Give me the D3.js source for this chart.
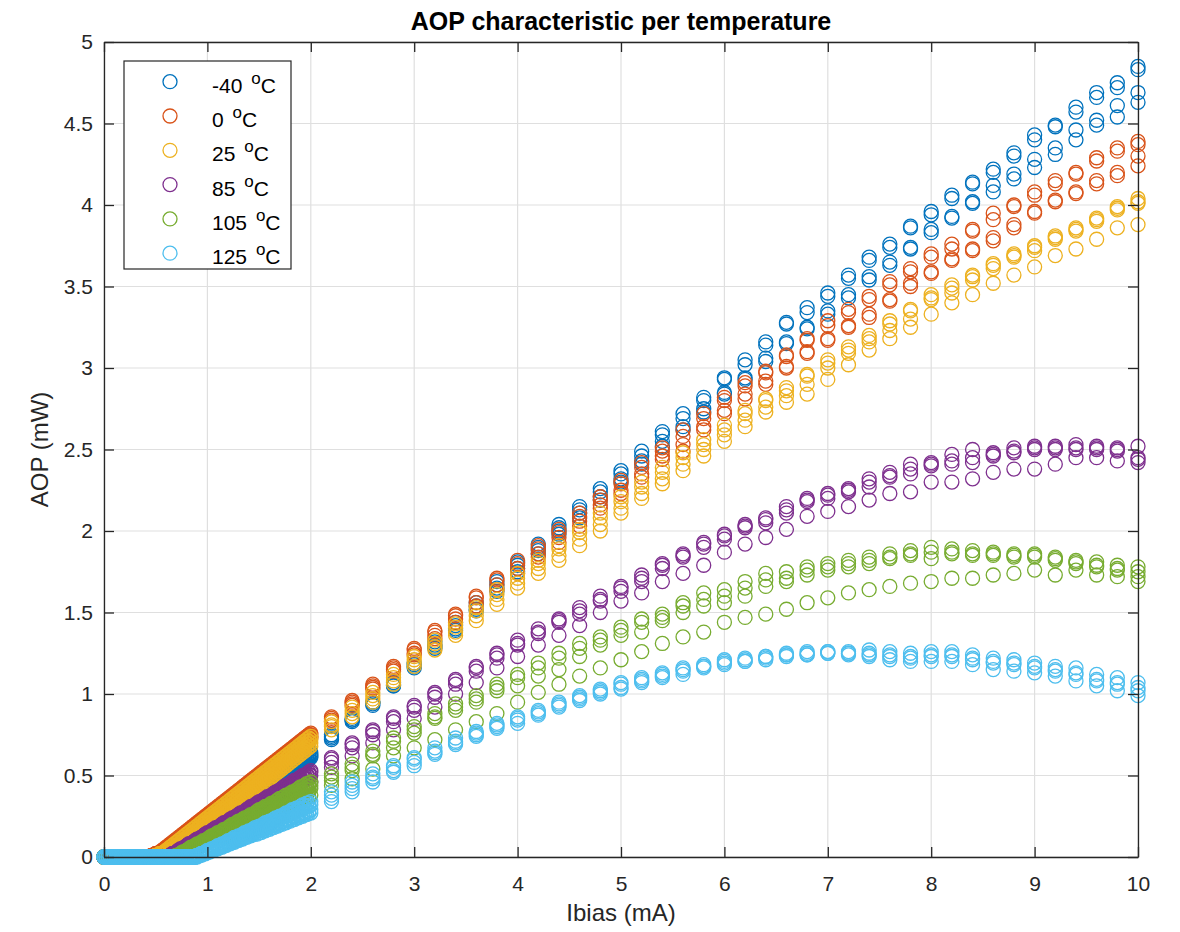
<!DOCTYPE html>
<html>
<head>
<meta charset="utf-8">
<script src="https://cdn.jsdelivr.net/npm/d3@7"></script>
<style>
  html, body { margin: 0; padding: 0; background: #fff; }
  svg { display: block; }
  text { font-family: "Liberation Sans", Arial, Helvetica, sans-serif; }
</style>
</head>
<body>
<svg id="chart" width="1180" height="932"></svg>
<script>
// Bias current grids (mA): fine sweep up to 2 mA, coarse sweep above it
const xDense = d3.range(101).map(i => +(i * 0.02).toFixed(2));
const xSparse = d3.range(40).map(j => +(2.2 + 0.2 * j).toFixed(1));

const tempLabels = ["-40", "0", "25", "85", "105", "125"];
const tempColors = ["#0072BD", "#D95319", "#EDB120", "#7E2F8E", "#77AC30", "#4DBEEE"];

const xTicks = [0, 1, 2, 3, 4, 5, 6, 7, 8, 9, 10];
const yTicks = [0, 0.5, 1, 1.5, 2, 2.5, 3, 3.5, 4, 4.5, 5];

// Optical power (mW), four devices per temperature, fine sweep 0..2 mA
const aopDenseM40 = [
  [0,0,0,0,0,0,0,0,0,0, 0,0,0,0,0,0,0,0,0,0, 0,0,0,0,0,0,0,0,0,0, 0,0,0,
   0.01,0.01,0.02,0.02,0.03,0.03,0.04,0.04,0.05,0.06,0.07,0.08,0.09,0.10,
   0.11,0.12,0.13,0.14,0.15,0.16,0.17,0.18,0.19,0.20, 0.21,0.22,0.23,0.24,0.25,0.26,0.27,0.28,0.29,0.30,
   0.31,0.32,0.33,0.34,0.35,0.36,0.37,0.38,0.39,0.40, 0.41,0.42,0.43,0.44,0.45,0.46,0.47,0.48,0.49,0.50,
   0.51,0.52,0.53,0.54,0.55,0.56,0.57,0.58,0.59,0.60, 0.61,0.62,0.63,0.64],
  [0,0,0,0,0,0,0,0,0,0, 0,0,0,0,0,0,0,0,0,0, 0,0,0,0,0,0,0,0,0,0, 0,0,0,
   0.01,0.01,0.02,0.02,0.03,0.03,0.04,0.04,0.05,0.05,0.06,0.07,0.08,0.09,0.10,
   0.11,0.12,0.13,0.14,0.15,0.16,0.17,0.18,0.19,0.20, 0.21,0.22,0.23,0.24,0.25,0.26,0.27,0.28,0.29,0.30,
   0.31,0.32,0.33,0.34,0.35,0.36,0.37,0.38,0.39,0.40, 0.41,0.42,0.43,0.44,0.45,0.46,0.47,0.48,0.49,0.50,
   0.51,0.52,0.53,0.54,0.55,0.56,0.57,0.58,0.59,0.60, 0.61,0.62,0.63],
  [0,0,0,0,0,0,0,0,0,0, 0,0,0,0,0,0,0,0,0,0, 0,0,0,0,0,0,0,0,0,0, 0,0,0,
   0.01,0.01,0.02,0.02,0.03,0.03,0.04,0.04,0.05,0.05,0.06,0.06,0.07,0.08,0.09,0.10,
   0.11,0.12,0.13,0.14,0.15,0.16,0.17,0.18,0.19,0.20, 0.21,0.22,0.23,0.24,0.25,0.26,0.27,0.28,0.29,0.30,
   0.31,0.32,0.33,0.34,0.35,0.36,0.37,0.38,0.39,0.40, 0.41,0.42,0.43,0.44,0.45,0.46,0.47,0.48,0.49,0.50,
   0.51,0.52,0.53,0.54,0.55,0.56,0.57,0.58,0.59,0.60, 0.61,0.62],
  [0,0,0,0,0,0,0,0,0,0, 0,0,0,0,0,0,0,0,0,0, 0,0,0,0,0,0,0,0,0,0, 0,0,0,
   0.01,0.01,0.02,0.02,0.03,0.03,0.04,0.04,0.05,0.05,0.06,0.06,0.07,0.07,0.08,0.09,0.10,
   0.11,0.12,0.13,0.14,0.15,0.16,0.17,0.18,0.19,0.20, 0.21,0.22,0.23,0.24,0.25,0.26,0.27,0.28,0.29,0.30,
   0.31,0.32,0.33,0.34,0.35,0.36,0.37,0.38,0.39,0.40, 0.41,0.42,0.43,0.44,0.45,0.46,0.47,0.48,0.49,0.50,
   0.51,0.52,0.53,0.54,0.55,0.56,0.57,0.58,0.59,0.60, 0.61]
];
const aopDense0 = [
  [0,0,0,0,0,0,0,0,0,0, 0,0,0,0,0,0,0,0,0,0, 0,0,0,
   0.01,0.01,0.02,0.02,0.03,0.04,0.05,0.06,0.07,0.08,0.09,0.10,
   0.11,0.12,0.13,0.14,0.15,0.16,0.17,0.18,0.19,0.20, 0.21,0.22,0.23,0.24,0.25,0.26,0.27,0.28,0.29,0.30,
   0.31,0.32,0.33,0.34,0.35,0.36,0.37,0.38,0.39,0.40, 0.41,0.42,0.43,0.44,0.45,0.46,0.47,0.48,0.49,0.50,
   0.51,0.52,0.53,0.54,0.55,0.56,0.57,0.58,0.59,0.60, 0.61,0.62,0.63,0.64,0.65,0.66,0.67,0.68,0.69,0.70,
   0.71,0.72,0.73,0.74,0.75,0.76],
  [0,0,0,0,0,0,0,0,0,0, 0,0,0,0,0,0,0,0,0,0, 0,0,0,
   0.01,0.01,0.02,0.02,0.03,0.03,0.04,0.05,0.06,0.07,0.08,0.09,0.10,
   0.11,0.12,0.13,0.14,0.15,0.16,0.17,0.18,0.19,0.20, 0.21,0.22,0.23,0.24,0.25,0.26,0.27,0.28,0.29,0.30,
   0.31,0.32,0.33,0.34,0.35,0.36,0.37,0.38,0.39,0.40, 0.41,0.42,0.43,0.44,0.45,0.46,0.47,0.48,0.49,0.50,
   0.51,0.52,0.53,0.54,0.55,0.56,0.57,0.58,0.59,0.60, 0.61,0.62,0.63,0.64,0.65,0.66,0.67,0.68,0.69,0.70,
   0.71,0.72,0.73,0.74,0.75],
  [0,0,0,0,0,0,0,0,0,0, 0,0,0,0,0,0,0,0,0,0, 0,0,0,
   0.01,0.01,0.02,0.02,0.03,0.03,0.04,0.04,0.05,0.06,0.07,0.08,0.09,0.10,
   0.11,0.12,0.13,0.14,0.15,0.16,0.17,0.18,0.19,0.20, 0.21,0.22,0.23,0.24,0.25,0.26,0.27,0.28,0.29,0.30,
   0.31,0.32,0.33,0.34,0.35,0.36,0.37,0.38,0.39,0.40, 0.41,0.42,0.43,0.44,0.45,0.46,0.47,0.48,0.49,0.50,
   0.51,0.52,0.53,0.54,0.55,0.56,0.57,0.58,0.59,0.60, 0.61,0.62,0.63,0.64,0.65,0.66,0.67,0.68,0.69,0.70,
   0.71,0.72,0.73,0.74],
  [0,0,0,0,0,0,0,0,0,0, 0,0,0,0,0,0,0,0,0,0, 0,0,0,
   0.01,0.01,0.02,0.02,0.03,0.03,0.04,0.04,0.05,0.05,0.06,0.07,0.08,0.09,0.10,
   0.11,0.12,0.13,0.14,0.15,0.16,0.17,0.18,0.19,0.20, 0.21,0.22,0.23,0.24,0.25,0.26,0.27,0.28,0.29,0.30,
   0.31,0.32,0.33,0.34,0.35,0.36,0.37,0.38,0.39,0.40, 0.41,0.42,0.43,0.44,0.45,0.46,0.47,0.48,0.49,0.50,
   0.51,0.52,0.53,0.54,0.55,0.56,0.57,0.58,0.59,0.60, 0.61,0.62,0.63,0.64,0.65,0.66,0.67,0.68,0.69,0.70,
   0.71,0.72,0.73]
];
const aopDense25 = [
  [0,0,0,0,0,0,0,0,0,0, 0,0,0,0,0,0,0,0,0,0, 0,0,0,0,0,
   0.01,0.01,0.02,0.02,0.03,0.04,0.05,0.06,0.07,0.08,0.09,0.10,
   0.11,0.12,0.13,0.14,0.15,0.16,0.17,0.18,0.19,0.20, 0.21,0.22,0.23,0.24,0.25,0.26,0.27,0.28,0.29,0.30,
   0.31,0.32,0.33,0.34,0.35,0.36,0.37,0.38,0.39,0.40, 0.41,0.42,0.43,0.44,0.45,0.46,0.47,0.48,0.49,0.50,
   0.51,0.52,0.53,0.54,0.55,0.56,0.57,0.58,0.59,0.60, 0.61,0.62,0.63,0.64,0.65,0.66,0.67,0.68,0.69,0.70,
   0.71,0.72,0.73,0.74],
  [0,0,0,0,0,0,0,0,0,0, 0,0,0,0,0,0,0,0,0,0, 0,0,0,0,0,
   0.01,0.01,0.02,0.02,0.03,0.03,0.04,0.04,0.05,0.06,0.07,0.08,0.09,0.10,
   0.11,0.12,0.13,0.14,0.15,0.16,0.17,0.18,0.19,0.20, 0.21,0.22,0.23,0.24,0.25,0.26,0.27,0.28,0.29,0.30,
   0.31,0.32,0.33,0.34,0.35,0.36,0.37,0.38,0.39,0.40, 0.41,0.42,0.43,0.44,0.45,0.46,0.47,0.48,0.49,0.50,
   0.51,0.52,0.53,0.54,0.55,0.56,0.57,0.58,0.59,0.60, 0.61,0.62,0.63,0.64,0.65,0.66,0.67,0.68,0.69,0.70,
   0.71,0.72],
  [0,0,0,0,0,0,0,0,0,0, 0,0,0,0,0,0,0,0,0,0, 0,0,0,0,0,
   0.01,0.01,0.02,0.02,0.03,0.03,0.04,0.04,0.05,0.05,0.06,0.06,0.07,0.08,0.09,0.10,
   0.11,0.12,0.13,0.14,0.15,0.16,0.17,0.18,0.19,0.20, 0.21,0.22,0.23,0.24,0.25,0.26,0.27,0.28,0.29,0.30,
   0.31,0.32,0.33,0.34,0.35,0.36,0.37,0.38,0.39,0.40, 0.41,0.42,0.43,0.44,0.45,0.46,0.47,0.48,0.49,0.50,
   0.51,0.52,0.53,0.54,0.55,0.56,0.57,0.58,0.59,0.60, 0.61,0.62,0.63,0.64,0.65,0.66,0.67,0.68,0.69,0.70],
  [0,0,0,0,0,0,0,0,0,0, 0,0,0,0,0,0,0,0,0,0, 0,0,0,0,0,
   0.01,0.01,0.02,0.02,0.03,0.03,0.04,0.04,0.05,0.05,0.06,0.06,0.07,0.07,0.08,0.08,0.09,0.10,
   0.11,0.12,0.13,0.14,0.15,0.16,0.17,0.18,0.19,0.20, 0.21,0.22,0.23,0.24,0.25,0.26,0.27,0.28,0.29,0.30,
   0.31,0.32,0.33,0.34,0.35,0.36,0.37,0.38,0.39,0.40, 0.41,0.42,0.43,0.44,0.45,0.46,0.47,0.48,0.49,0.50,
   0.51,0.52,0.53,0.54,0.55,0.56,0.57,0.58,0.59,0.60, 0.61,0.62,0.63,0.64,0.65,0.66,0.67,0.68]
];
const aopDense85 = [
  [0,0,0,0,0,0,0,0,0,0, 0,0,0,0,0,0,0,0,0,0, 0,0,0,0,0,0,0,0,0,0, 0,0,
   0.01,0.02,0.02,0.03,0.04,0.05,0.05,0.06,0.07,0.08, 0.08,0.09,0.10,0.11,0.11,0.12,0.13,0.14,0.15,0.15,
   0.16,0.17,0.18,0.18,0.19,0.20,0.21,0.21,0.22,0.23, 0.24,0.24,0.25,0.26,0.27,0.27,0.28,0.29,0.30,0.31,
   0.31,0.32,0.33,0.34,0.34,0.35,0.36,0.37,0.37,0.38, 0.39,0.40,0.40,0.41,0.42,0.43,0.44,0.44,0.45,0.46,
   0.47,0.47,0.48,0.49,0.50,0.50,0.51,0.52,0.53],
  [0,0,0,0,0,0,0,0,0,0, 0,0,0,0,0,0,0,0,0,0, 0,0,0,0,0,0,0,0,0,0, 0,0,
   0.01,0.02,0.02,0.03, 0.04,0.05,0.05,0.06, 0.07,0.08,0.08,0.09, 0.10,0.11,0.11,0.12, 0.13,0.14,0.14,0.15,
   0.16,0.17,0.17,0.18, 0.19,0.20,0.20,0.21, 0.22,0.23,0.23,0.24, 0.25,0.26,0.26,0.27, 0.28,0.29,0.29,0.30,
   0.31,0.32,0.32,0.33, 0.34,0.35,0.35,0.36, 0.37,0.38,0.38,0.39, 0.40,0.41,0.41,0.42, 0.43,0.44,0.44,0.45,
   0.46,0.47,0.47,0.48, 0.49,0.50,0.50,0.51, 0.52],
  [0,0,0,0,0,0,0,0,0,0, 0,0,0,0,0,0,0,0,0,0, 0,0,0,0,0,0,0,0,0,0, 0,0,
   0.01,0.01,0.02,0.03,0.04,0.04,0.05,0.06,0.06,0.07,0.08,0.09,0.09,0.10,0.11,0.12,0.12,0.13,
   0.14,0.14,0.15,0.16,0.17,0.17,0.18,0.19,0.19,0.20,0.21,0.22,0.22,0.23,0.24,0.25,0.25,0.26,
   0.27,0.27,0.28,0.29,0.30,0.30,0.31,0.32,0.32,0.33,0.34,0.35,0.35,0.36,0.37,0.38,0.38,0.39,
   0.40,0.40,0.41,0.42,0.43,0.43,0.44,0.45,0.45,0.46,0.47,0.48,0.48,0.49,0.50],
  [0,0,0,0,0,0,0,0,0,0, 0,0,0,0,0,0,0,0,0,0, 0,0,0,0,0,0,0,0,0,0, 0,0,
   0.01,0.01,0.02, 0.03,0.03,0.04, 0.05,0.05,0.06, 0.07,0.07,0.08, 0.09,0.09,0.10, 0.11,0.11,0.12,
   0.13,0.13,0.14, 0.15,0.15,0.16, 0.17,0.17,0.18, 0.19,0.19,0.20, 0.21,0.21,0.22, 0.23,0.23,0.24,
   0.25,0.25,0.26, 0.27,0.27,0.28, 0.29,0.29,0.30, 0.31,0.31,0.32, 0.33,0.33,0.34, 0.35,0.35,0.36,
   0.37,0.37,0.38, 0.39,0.39,0.40, 0.41,0.41,0.42, 0.43,0.43,0.44, 0.45,0.45,0.46]
];
const aopDense105 = [
  [0,0,0,0,0,0,0,0,0,0, 0,0,0,0,0,0,0,0,0,0, 0,0,0,0,0,0,0,0,0,0, 0,0,0,0,0,
   0.01,0.01,0.02,0.03,0.03,0.04,0.05,0.06,0.06,0.07,0.08,0.08,0.09,0.10,0.10,0.11,0.12,
   0.13,0.13,0.14,0.15,0.15,0.16,0.17,0.17,0.18,0.19,0.20,0.20,0.21,0.22,0.22,0.23,
   0.24,0.24,0.25,0.26,0.26,0.27,0.28,0.29,0.29,0.30,0.31,0.31,0.32,0.33,0.33,0.34,0.35,
   0.36,0.36,0.37,0.38,0.38,0.39,0.40,0.40,0.41,0.42,0.43,0.43,0.44,0.45,0.45,0.46],
  [0,0,0,0,0,0,0,0,0,0, 0,0,0,0,0,0,0,0,0,0, 0,0,0,0,0,0,0,0,0,0, 0,0,0,0,0,
   0.01,0.01,0.02, 0.03,0.03,0.04, 0.05,0.05,0.06, 0.07,0.07,0.08, 0.09,0.09,0.10, 0.11,0.11,0.12,
   0.13,0.13,0.14, 0.15,0.15,0.16, 0.17,0.17,0.18, 0.19,0.19,0.20, 0.21,0.21,0.22, 0.23,0.23,0.24,
   0.25,0.25,0.26, 0.27,0.27,0.28, 0.29,0.29,0.30, 0.31,0.31,0.32, 0.33,0.33,0.34, 0.35,0.35,0.36,
   0.37,0.37,0.38, 0.39,0.39,0.40, 0.41,0.41,0.42, 0.43,0.43,0.44],
  [0,0,0,0,0,0,0,0,0,0, 0,0,0,0,0,0,0,0,0,0, 0,0,0,0,0,0,0,0,0,0, 0,0,0,0,0,
   0.01,0.01,0.02,0.03,0.03,0.04,0.04,0.05,0.06,0.06,0.07,
   0.08,0.08,0.09,0.10,0.10,0.11,0.11,0.12,0.13,0.13,0.14,
   0.15,0.15,0.16,0.17,0.17,0.18,0.18,0.19,0.20,0.20,0.21,
   0.22,0.22,0.23,0.24,0.24,0.25,0.25,0.26,0.27,0.27,0.28,
   0.29,0.29,0.30,0.31,0.31,0.32,0.32,0.33,0.34,0.34,0.35,
   0.36,0.36,0.37,0.38,0.38,0.39,0.39,0.40,0.41,0.41,0.42],
  [0,0,0,0,0,0,0,0,0,0, 0,0,0,0,0,0,0,0,0,0, 0,0,0,0,0,0,0,0,0,0, 0,0,0,0,0,
   0.01,0.01,0.02,0.02,0.03,0.03,0.04,0.05,0.05,0.06,0.06,0.07,0.07,0.08,0.09,0.09,0.10,
   0.10,0.11,0.12,0.12,0.13,0.13,0.14,0.14,0.15,0.16,0.16,0.17,0.17,0.18,0.18,0.19,
   0.20,0.20,0.21,0.21,0.22,0.22,0.23,0.24,0.24,0.25,0.25,0.26,0.26,0.27,0.28,0.28,0.29,
   0.29,0.30,0.31,0.31,0.32,0.32,0.33,0.33,0.34,0.35,0.35,0.36,0.36,0.37,0.37,0.38]
];
const aopDense125 = [
  [0,0,0,0,0,0,0,0,0,0, 0,0,0,0,0,0,0,0,0,0, 0,0,0,0,0,0,0,0,0,0, 0,0,0,0,0,0,0,0,0,0, 0,0,0,0,0,
   0.01,0.01,0.02,0.02,0.03,0.04,0.04,0.05,0.05,0.06,0.07,0.07,0.08,0.08,
   0.09,0.10,0.10,0.11,0.12,0.12,0.13,0.13,0.14,0.15,0.15,0.16,0.16,0.17,
   0.18,0.18,0.19,0.19,0.20,0.21,0.21,0.22,0.22,0.23,0.24,0.24,0.25,0.25,
   0.26,0.27,0.27,0.28,0.29,0.29,0.30,0.30,0.31,0.32,0.32,0.33,0.33,0.34],
  [0,0,0,0,0,0,0,0,0,0, 0,0,0,0,0,0,0,0,0,0, 0,0,0,0,0,0,0,0,0,0, 0,0,0,0,0,0,0,0,0,0, 0,0,0,0,0,
   0.01,0.01,0.02,0.02,0.03,0.03,0.04, 0.05,0.05,0.06,0.06,0.07,0.07,0.08,
   0.09,0.09,0.10,0.10,0.11,0.11,0.12, 0.13,0.13,0.14,0.14,0.15,0.15,0.16,
   0.17,0.17,0.18,0.18,0.19,0.19,0.20, 0.21,0.21,0.22,0.22,0.23,0.23,0.24,
   0.25,0.25,0.26,0.26,0.27,0.27,0.28, 0.29,0.29,0.30,0.30,0.31,0.31,0.32],
  [0,0,0,0,0,0,0,0,0,0, 0,0,0,0,0,0,0,0,0,0, 0,0,0,0,0,0,0,0,0,0, 0,0,0,0,0,0,0,0,0,0, 0,0,0,0,0,
   0.01,0.01,0.02,0.02,0.03,0.03,0.04,0.04,0.05,0.05, 0.06,0.06,0.07,0.07,0.08,0.08,0.09,0.09,0.10,0.10,
   0.11,0.11,0.12,0.12,0.13,0.13,0.14,0.14,0.15,0.16, 0.16,0.17,0.17,0.18,0.18,0.19,0.19,0.20,0.20,0.21,
   0.21,0.22,0.22,0.23,0.23,0.24,0.24,0.25,0.25,0.26, 0.26,0.27,0.27,0.28,0.28,0.29],
  [0,0,0,0,0,0,0,0,0,0, 0,0,0,0,0,0,0,0,0,0, 0,0,0,0,0,0,0,0,0,0, 0,0,0,0,0,0,0,0,0,0, 0,0,0,0,0,
   0,0.01,0.01,0.02,0.02,0.03,0.03,0.04,0.04,0.05, 0.05,0.06,0.06,0.07,0.07,0.08,0.08,0.09,0.09,0.10,
   0.10,0.11,0.11,0.12,0.12,0.13,0.13,0.14,0.14,0.14, 0.15,0.15,0.16,0.16,0.17,0.17,0.18,0.18,0.19,0.19,
   0.20,0.20,0.21,0.21,0.22,0.22,0.23,0.23,0.24,0.24, 0.25,0.25,0.26,0.26,0.27,0.27]
];

// Optical power (mW), four devices per temperature, coarse sweep 2.2..10 mA
const aopSparseM40 = [
  [0.75,0.85,0.95,1.07,1.19,1.32,1.44,1.56,1.69,1.81,1.92,2.04,2.15,2.26,2.37,2.49,2.61,2.72,2.82,2.94,3.05,3.16,3.28,3.37,3.46,3.57,3.68,3.76,3.87,3.96,4.06,4.14,4.22,4.32,4.43,4.49,4.60,4.69,4.75,4.85],
  [0.74,0.84,0.95,1.06,1.18,1.30,1.42,1.54,1.67,1.79,1.90,2.02,2.13,2.24,2.35,2.46,2.59,2.69,2.80,2.93,3.02,3.14,3.27,3.34,3.44,3.55,3.66,3.74,3.86,3.94,4.04,4.13,4.20,4.30,4.40,4.48,4.57,4.66,4.72,4.83],
  [0.73,0.84,0.94,1.05,1.17,1.29,1.40,1.52,1.65,1.77,1.88,2.00,2.11,2.21,2.32,2.43,2.55,2.64,2.75,2.85,2.94,3.06,3.16,3.25,3.35,3.45,3.56,3.65,3.74,3.85,3.93,4.02,4.12,4.19,4.28,4.35,4.46,4.52,4.61,4.69],
  [0.72,0.83,0.93,1.05,1.16,1.28,1.39,1.51,1.63,1.75,1.86,1.98,2.08,2.19,2.30,2.41,2.52,2.62,2.73,2.84,2.93,3.04,3.15,3.24,3.33,3.43,3.54,3.63,3.73,3.83,3.92,4.01,4.08,4.16,4.23,4.31,4.40,4.49,4.54,4.63]
];
const aopSparse0 = [
  [0.86,0.96,1.06,1.17,1.28,1.39,1.49,1.60,1.71,1.82,1.91,2.01,2.11,2.21,2.31,2.42,2.51,2.62,2.72,2.82,2.91,2.98,3.08,3.18,3.29,3.36,3.44,3.53,3.61,3.70,3.76,3.85,3.95,4.00,4.08,4.15,4.20,4.29,4.35,4.39],
  [0.85,0.95,1.05,1.16,1.27,1.38,1.48,1.59,1.70,1.80,1.89,1.99,2.09,2.19,2.29,2.39,2.49,2.58,2.69,2.80,2.89,2.97,3.07,3.17,3.26,3.34,3.42,3.51,3.59,3.68,3.73,3.84,3.91,3.99,4.06,4.13,4.19,4.27,4.33,4.37],
  [0.84,0.94,1.04,1.15,1.25,1.36,1.46,1.56,1.67,1.77,1.86,1.96,2.06,2.16,2.25,2.35,2.46,2.53,2.64,2.74,2.84,2.92,3.01,3.10,3.18,3.26,3.33,3.42,3.52,3.59,3.67,3.73,3.80,3.88,3.96,4.03,4.08,4.15,4.20,4.30],
  [0.83,0.93,1.03,1.14,1.24,1.34,1.44,1.54,1.64,1.74,1.84,1.93,2.03,2.14,2.23,2.33,2.44,2.49,2.62,2.72,2.81,2.90,3.00,3.09,3.17,3.25,3.31,3.41,3.50,3.58,3.66,3.72,3.78,3.86,3.95,4.02,4.07,4.13,4.18,4.24]
];
const aopSparse25 = [
  [0.83,0.92,1.01,1.12,1.23,1.33,1.43,1.53,1.64,1.74,1.82,1.91,2.01,2.11,2.21,2.30,2.39,2.48,2.56,2.65,2.74,2.81,2.88,2.96,3.05,3.13,3.20,3.29,3.36,3.45,3.51,3.57,3.64,3.70,3.75,3.81,3.86,3.92,3.99,4.04],
  [0.81,0.90,0.99,1.10,1.21,1.31,1.41,1.51,1.61,1.71,1.80,1.89,1.99,2.08,2.18,2.27,2.36,2.45,2.53,2.62,2.72,2.80,2.86,2.95,3.03,3.11,3.18,3.27,3.35,3.43,3.49,3.56,3.63,3.69,3.74,3.80,3.85,3.91,3.98,4.02],
  [0.80,0.88,0.97,1.08,1.19,1.29,1.38,1.48,1.58,1.68,1.77,1.85,1.95,2.04,2.14,2.23,2.32,2.41,2.50,2.59,2.68,2.76,2.83,2.90,3.00,3.09,3.16,3.23,3.30,3.42,3.46,3.54,3.61,3.68,3.72,3.79,3.84,3.90,3.97,4.01],
  [0.78,0.86,0.95,1.06,1.17,1.27,1.36,1.45,1.55,1.65,1.74,1.82,1.91,2.00,2.11,2.20,2.29,2.37,2.46,2.55,2.64,2.73,2.79,2.84,2.93,3.02,3.11,3.18,3.25,3.33,3.40,3.45,3.52,3.57,3.62,3.69,3.73,3.79,3.86,3.88]
];
const aopSparse85 = [
  [0.61,0.70,0.78,0.86,0.93,1.01,1.09,1.17,1.25,1.33,1.40,1.46,1.53,1.60,1.66,1.73,1.80,1.86,1.93,1.98,2.04,2.08,2.15,2.20,2.23,2.26,2.32,2.36,2.41,2.42,2.47,2.50,2.48,2.51,2.52,2.52,2.53,2.52,2.51,2.52],
  [0.60,0.69,0.77,0.85,0.92,1.00,1.08,1.16,1.24,1.31,1.38,1.45,1.51,1.58,1.65,1.71,1.79,1.85,1.92,1.97,2.03,2.07,2.13,2.19,2.22,2.25,2.30,2.34,2.38,2.41,2.43,2.45,2.47,2.49,2.51,2.51,2.51,2.51,2.50,2.45],
  [0.58,0.67,0.75,0.83,0.90,0.98,1.06,1.14,1.22,1.30,1.37,1.44,1.49,1.57,1.63,1.69,1.77,1.84,1.90,1.95,2.02,2.05,2.11,2.18,2.20,2.24,2.27,2.33,2.35,2.40,2.41,2.42,2.46,2.48,2.50,2.50,2.50,2.50,2.49,2.44],
  [0.55,0.62,0.70,0.78,0.85,0.92,1.00,1.07,1.16,1.23,1.30,1.36,1.42,1.50,1.57,1.62,1.69,1.74,1.79,1.87,1.92,1.96,2.01,2.09,2.12,2.15,2.19,2.23,2.24,2.30,2.30,2.32,2.36,2.38,2.38,2.41,2.45,2.45,2.43,2.42]
];
const aopSparse105 = [
  [0.51,0.57,0.65,0.73,0.80,0.88,0.94,0.99,1.06,1.12,1.19,1.25,1.31,1.35,1.41,1.46,1.49,1.56,1.62,1.64,1.69,1.74,1.75,1.78,1.80,1.82,1.84,1.86,1.88,1.90,1.89,1.88,1.87,1.86,1.86,1.84,1.82,1.81,1.79,1.78],
  [0.49,0.55,0.63,0.71,0.78,0.86,0.92,0.97,1.04,1.10,1.16,1.22,1.28,1.33,1.39,1.44,1.47,1.54,1.58,1.60,1.65,1.70,1.71,1.76,1.78,1.80,1.82,1.84,1.86,1.87,1.87,1.86,1.86,1.85,1.85,1.83,1.81,1.79,1.77,1.75],
  [0.47,0.53,0.62,0.67,0.76,0.85,0.90,0.95,1.02,1.05,1.11,1.15,1.23,1.30,1.36,1.38,1.45,1.50,1.54,1.56,1.60,1.66,1.69,1.73,1.76,1.78,1.80,1.83,1.85,1.83,1.86,1.85,1.85,1.84,1.84,1.82,1.80,1.78,1.76,1.72],
  [0.44,0.48,0.54,0.62,0.67,0.72,0.78,0.83,0.88,0.95,1.01,1.06,1.11,1.16,1.21,1.26,1.31,1.35,1.38,1.44,1.47,1.49,1.52,1.56,1.59,1.62,1.64,1.66,1.68,1.69,1.71,1.71,1.73,1.74,1.76,1.73,1.76,1.73,1.72,1.69]
];
const aopSparse125 = [
  [0.40,0.46,0.51,0.56,0.61,0.67,0.73,0.77,0.82,0.86,0.90,0.95,0.99,1.03,1.07,1.10,1.13,1.16,1.18,1.21,1.22,1.23,1.25,1.26,1.26,1.26,1.27,1.26,1.25,1.26,1.26,1.24,1.22,1.21,1.19,1.17,1.16,1.12,1.10,1.07],
  [0.38,0.44,0.49,0.55,0.60,0.65,0.71,0.76,0.81,0.85,0.89,0.94,0.98,1.02,1.06,1.09,1.12,1.15,1.17,1.20,1.21,1.23,1.24,1.25,1.26,1.25,1.25,1.24,1.23,1.24,1.24,1.22,1.20,1.19,1.17,1.15,1.13,1.09,1.07,1.04],
  [0.36,0.42,0.48,0.53,0.58,0.64,0.70,0.75,0.80,0.84,0.88,0.93,0.97,1.01,1.04,1.08,1.11,1.14,1.17,1.19,1.20,1.22,1.24,1.24,1.25,1.25,1.24,1.23,1.22,1.23,1.23,1.21,1.19,1.18,1.16,1.14,1.12,1.08,1.06,1.02],
  [0.34,0.40,0.46,0.52,0.56,0.63,0.69,0.74,0.79,0.82,0.87,0.92,0.96,1.00,1.03,1.07,1.10,1.12,1.16,1.18,1.20,1.21,1.23,1.24,1.25,1.24,1.23,1.21,1.20,1.20,1.20,1.18,1.15,1.14,1.13,1.11,1.08,1.05,1.02,0.99]
];

const denseByTemp = [aopDenseM40, aopDense0, aopDense25, aopDense85, aopDense105, aopDense125];
const sparseByTemp = [aopSparseM40, aopSparse0, aopSparse25, aopSparse85, aopSparse105, aopSparse125];

// Layout
const plot = { left: 104, right: 1138, top: 42, bottom: 857 };
const axisColor = "#262626";
const gridColor = "#dfdfdf";
const markerR = 7;
const markerW = 1.3;

const svg = d3.select("#chart");
const x = d3.scaleLinear().domain([0, 10]).range([plot.left, plot.right]);
const y = d3.scaleLinear().domain([0, 5]).range([plot.bottom, plot.top]);

// Grid
const grid = svg.append("g");
grid.selectAll("line.gx").data(xTicks).join("line")
  .attr("x1", d => x(d)).attr("x2", d => x(d))
  .attr("y1", plot.top).attr("y2", plot.bottom)
  .attr("stroke", gridColor).attr("stroke-width", 1.2);
grid.selectAll("line.gy").data(yTicks).join("line")
  .attr("x1", plot.left).attr("x2", plot.right)
  .attr("y1", d => y(d)).attr("y2", d => y(d))
  .attr("stroke", gridColor).attr("stroke-width", 1.2);

// Markers, one ring per measurement, drawn temperature by temperature
const rows = [];
tempLabels.forEach((t, k) => {
  denseByTemp[k].forEach(dev => dev.forEach((v, i) => rows.push({ k, x: xDense[i], v })));
  sparseByTemp[k].forEach(dev => dev.forEach((v, j) => rows.push({ k, x: xSparse[j], v })));
});
svg.append("g").selectAll("circle").data(rows).join("circle")
  .attr("cx", d => x(d.x)).attr("cy", d => y(d.v)).attr("r", markerR)
  .attr("fill", "none").attr("stroke", d => tempColors[d.k]).attr("stroke-width", markerW);

// Axes (ticks pointing inward on all four sides)
const tickFont = 21;
const gB = svg.append("g").attr("transform", `translate(0,${plot.bottom})`)
  .call(d3.axisBottom(x).tickValues(xTicks).tickSizeInner(-10).tickSizeOuter(0).tickPadding(19).tickFormat(d => String(d)));
const gT = svg.append("g").attr("transform", `translate(0,${plot.top})`)
  .call(d3.axisTop(x).tickValues(xTicks).tickSizeInner(-10).tickSizeOuter(0).tickFormat(""));
const gL = svg.append("g").attr("transform", `translate(${plot.left},0)`)
  .call(d3.axisLeft(y).tickValues(yTicks).tickSizeInner(-10).tickSizeOuter(0).tickPadding(11).tickFormat(d => String(d)));
const gR = svg.append("g").attr("transform", `translate(${plot.right},0)`)
  .call(d3.axisRight(y).tickValues(yTicks).tickSizeInner(-10).tickSizeOuter(0).tickFormat(""));
[gB, gT, gL, gR].forEach(g => {
  g.select(".domain").attr("stroke", axisColor).attr("stroke-width", 1.3);
  g.selectAll(".tick line").attr("stroke", axisColor).attr("stroke-width", 1.3);
  g.selectAll(".tick text").attr("fill", axisColor)
    .style("font-family", "'Liberation Sans', Arial, sans-serif").style("font-size", tickFont + "px");
});

// Titles
svg.append("text").attr("x", (plot.left + plot.right) / 2).attr("y", 30)
  .attr("text-anchor", "middle").attr("font-weight", "bold").attr("font-size", 25).attr("fill", "#000")
  .text("AOP characteristic per temperature");
svg.append("text").attr("x", (plot.left + plot.right) / 2).attr("y", 921)
  .attr("text-anchor", "middle").attr("font-size", 24).attr("fill", axisColor)
  .text("Ibias (mA)");
svg.append("text").attr("transform", `translate(48,${(plot.top + plot.bottom) / 2}) rotate(-90)`)
  .attr("text-anchor", "middle").attr("font-size", 24).attr("fill", axisColor)
  .text("AOP (mW)");

// Legend
const leg = svg.append("g");
leg.append("rect").attr("x", 124).attr("y", 61).attr("width", 167).attr("height", 208)
  .attr("fill", "#fff").attr("stroke", axisColor).attr("stroke-width", 1.2);
tempLabels.forEach((t, k) => {
  const cy = 81.7 + k * 34.3;
  leg.append("circle").attr("cx", 170).attr("cy", cy).attr("r", markerR)
    .attr("fill", "none").attr("stroke", tempColors[k]).attr("stroke-width", markerW);
  const tx = leg.append("text").attr("x", 212).attr("y", cy + 11).attr("font-size", 21).attr("fill", "#000");
  tx.append("tspan").text(t + " ");
  tx.append("tspan").attr("dy", -9).attr("dx", 3).attr("font-size", 17).text("o");
  tx.append("tspan").attr("dy", 9).text("C");
});
</script>
</body>
</html>
